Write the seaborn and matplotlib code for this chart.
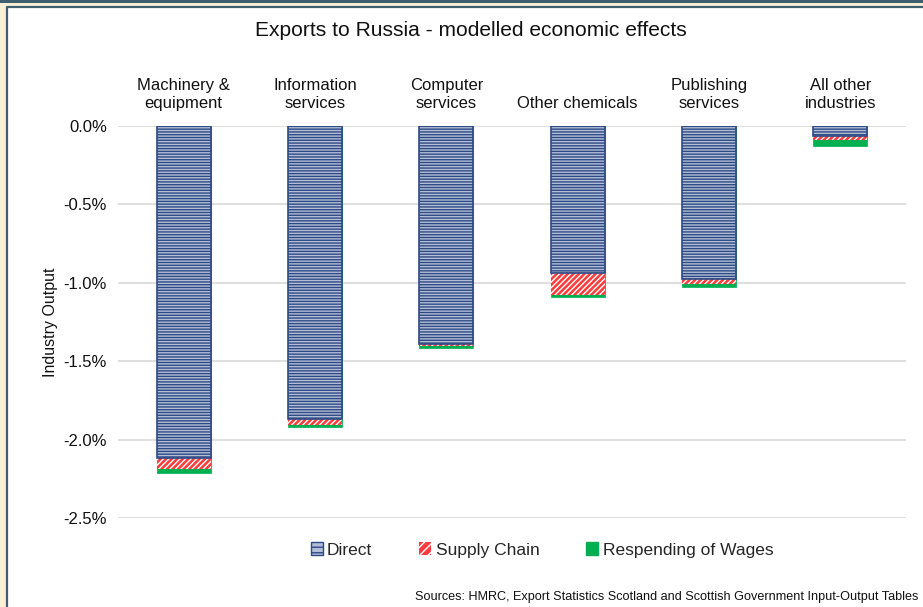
import matplotlib
matplotlib.use("Agg")
import matplotlib.pyplot as plt
from matplotlib.patches import Rectangle, Patch
from matplotlib.lines import Line2D
from matplotlib.ticker import FuncFormatter
import seaborn as sns
import pandas as pd
import numpy as np

# Modelled change in industry output (%) from lost exports to Russia
industries = ["Machinery &\nequipment", "Information\nservices", "Computer\nservices",
              "Other chemicals", "Publishing\nservices", "All other\nindustries"]
direct = [-2.12, -1.87, -1.39, -0.94, -0.975, -0.065]
supply_chain = [-0.07, -0.04, -0.015, -0.14, -0.03, -0.025]
respending = [-0.02, -0.01, -0.01, -0.01, -0.02, -0.035]

series_names = ["Direct", "Supply Chain", "Respending of Wages"]

sns.set_theme(style="white")
plt.rcParams["font.family"] = ["Liberation Sans", "DejaVu Sans"]
plt.rcParams["hatch.linewidth"] = 1.0

fig = plt.figure(figsize=(9.23, 6.07), dpi=100)
fig.patch.set_facecolor("#faf0d8")

# panel frame: teal rule on top, white panel with teal top/left edges
frame_col = "#3e5f70"
fig.add_artist(Rectangle((0, 1 - 3 / 607), 1, 3 / 607, transform=fig.transFigure,
                         facecolor=frame_col, edgecolor="none", zorder=0))
fig.add_artist(Rectangle((7 / 923, 0), 1, 1 - 7 / 607, transform=fig.transFigure,
                         facecolor="white", edgecolor="none", zorder=0))
fig.add_artist(Line2D([7 / 923, 7 / 923, 1], [0, 1 - 7 / 607, 1 - 7 / 607],
                      transform=fig.transFigure, color=frame_col, linewidth=1.6, zorder=1))

ax = fig.add_axes([118 / 923, 1 - 518 / 607, (906 - 118) / 923, (518 - 126) / 607])
ax.set_facecolor("none")

df = pd.DataFrame({
    "industry": industries,
    "direct": direct,
    "supply": supply_chain,
    "wages": respending,
})
df["lvl_direct"] = df["direct"]
df["lvl_supply"] = df["direct"] + df["supply"]
df["lvl_total"] = df["lvl_supply"] + df["wages"]

bar_w = 0.41
layers = [
    ("lvl_total", dict(face="#00b050", edge="#00b050", hatch=None)),
    ("lvl_supply", dict(face="#ff3b3b", edge="white", hatch="//////")),
    ("lvl_direct", dict(face="#b3bed6", edge="#2d4a85", hatch="------")),
]
for col, st in layers:
    n_before = len(ax.patches)
    sns.barplot(data=df, x="industry", y=col, order=industries, color=st["face"],
                width=bar_w, ax=ax, errorbar=None, saturation=1, zorder=2)
    for p in ax.patches[n_before:]:
        p.set_facecolor(st["face"])
        if st["hatch"]:
            p.set_hatch(st["hatch"])
            p.set_edgecolor(st["edge"])
            p.set_linewidth(0)
        else:
            p.set_edgecolor(st["edge"])
            p.set_linewidth(0.5)

# outline around the direct segment
for i, v in enumerate(direct):
    ax.add_patch(Rectangle((i - bar_w / 2, v), bar_w, -v, facecolor="none",
                           edgecolor="#2d4a85", linewidth=1.2, zorder=3))

ax.set_ylim(-2.5, 0)
ax.set_xlim(-0.5, len(industries) - 0.5)
ax.set_yticks(np.arange(-2.5, 0.01, 0.5))
ax.yaxis.set_major_formatter(FuncFormatter(lambda v, _: f"{v:.1f}%"))
ax.yaxis.grid(True, color="#d9d9d9", linewidth=1.2, zorder=0)
ax.set_axisbelow(True)
for s in ax.spines.values():
    s.set_visible(False)

ax.xaxis.tick_top()
ax.tick_params(axis="x", length=0, pad=11, labelsize=12, colors="#111111")
ax.tick_params(axis="y", length=0, pad=8, labelsize=12, colors="#111111")
ax.set_xlabel("")
ax.set_ylabel("Industry Output", fontsize=11.5, labelpad=4, color="#111111")

fig.text(471 / 923, 1 - 31 / 607, "Exports to Russia - modelled economic effects",
         ha="center", va="center", fontsize=15.1, color="#111111")

handles = [
    Patch(facecolor="#b3bed6", edgecolor="#2d4a85", hatch="---", linewidth=1),
    Patch(facecolor="#ff3b3b", edgecolor="white", hatch="////", linewidth=0),
    Patch(facecolor="#00b050", edgecolor="#00b050"),
]
fig.legend(handles, series_names, loc="center", bbox_to_anchor=(542 / 923, 1 - 550 / 607),
           ncol=3, frameon=False, fontsize=12.5, handlelength=0.7, handleheight=0.7,
           handletextpad=0.25, columnspacing=2.7)

fig.text(1 - 5 / 923, 1 - 597 / 607,
         "Sources: HMRC, Export Statistics Scotland and Scottish Government Input-Output Tables",
         ha="right", va="center", fontsize=9.1, color="#111111")

fig.savefig("out.png", dpi=100, facecolor=fig.get_facecolor())
